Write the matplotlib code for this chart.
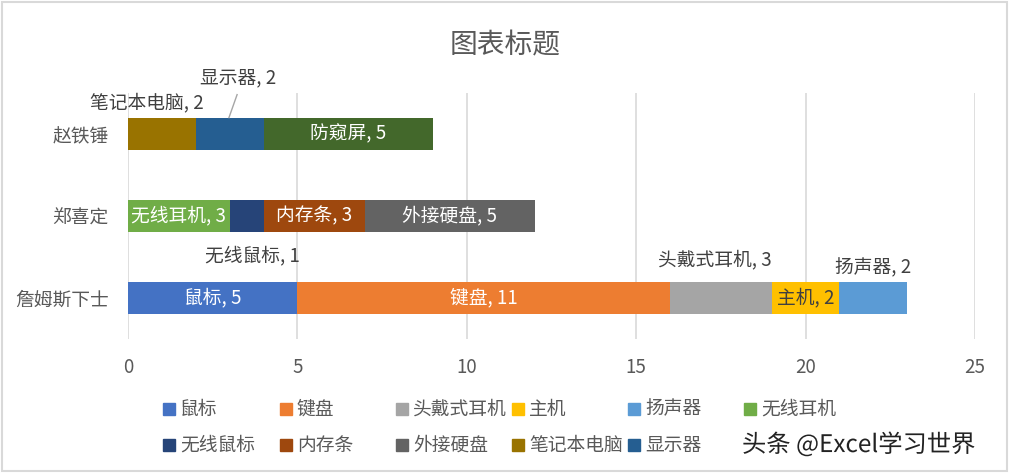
import matplotlib
matplotlib.use("Agg")
import numpy as np
import matplotlib.pyplot as plt
import matplotlib.patches as mpatches
import matplotlib.patheffects as pe

plt.rcParams["font.family"] = ["Noto Sans CJK SC", "DejaVu Sans"]

# --- data ---
categories = ["詹姆斯下士", "郑喜定", "赵铁锤"]
series_names = ["鼠标", "键盘", "头戴式耳机", "主机", "扬声器", "无线耳机",
                "无线鼠标", "内存条", "外接硬盘", "笔记本电脑", "显示器", "防窥屏"]
mouse      = [5, 0, 0]
keyboard   = [11, 0, 0]
headset    = [3, 0, 0]
host       = [2, 0, 0]
speaker    = [2, 0, 0]
wl_earbuds = [0, 3, 0]
wl_mouse   = [0, 1, 0]
memory     = [0, 3, 0]
ext_disk   = [0, 5, 0]
laptop     = [0, 0, 2]
monitor    = [0, 0, 2]
privacy    = [0, 0, 5]
series_vals = [mouse, keyboard, headset, host, speaker, wl_earbuds,
               wl_mouse, memory, ext_disk, laptop, monitor, privacy]
x_ticks = [0, 5, 10, 15, 20, 25]

colors = ["#4472C4", "#ED7D31", "#A5A5A5", "#FFC000", "#5B9BD5", "#70AD47",
          "#264478", "#9E480E", "#636363", "#997300", "#255E91", "#43682B"]
# label style: None = inside, tuple = offset (dx, dy) outside the bar
label_pos = [None, None, (-0.17, 0.46), None, (-0.01, 0.37), None,
             (0.17, -0.48), None, None, (-0.44, 0.38), (0.24, 0.69), None]
inside_color = {3: "#404040"}
TXT = "#595959"

fig = plt.figure(figsize=(10.1, 4.75), dpi=100)
ax = fig.add_axes([128/1010, 1-339/475, 847/1010, 246/475])

y = np.arange(len(categories))
left = np.zeros(len(categories))
for i, (name, vals) in enumerate(zip(series_names, series_vals)):
    vals = np.array(vals, dtype=float)
    ax.barh(y, vals, left=left, height=0.4, color=colors[i], zorder=2)
    for k in range(len(categories)):
        if vals[k] == 0:
            continue
        cx = left[k] + vals[k] / 2
        txt = f"{name}, {int(vals[k])}"
        if label_pos[i] is None:
            ax.text(cx, y[k], txt, ha="center", va="center", fontsize=13.5,
                    color=inside_color.get(i, "white"), zorder=3)
        else:
            dx, dy = label_pos[i]
            ax.text(cx + dx, y[k] + dy, txt, ha="center", va="center",
                    fontsize=13.5, color="#404040", zorder=3)
            if name == "显示器":
                ax.plot([cx + 0.22, cx - 0.02], [y[k] + 0.48, y[k] + 0.2],
                        color="#A6A6A6", lw=1.0, zorder=3)
    left += vals

ax.set_xlim(0, 25)
ax.set_ylim(-0.5, 2.5)
ax.set_xticks(x_ticks)
ax.set_yticks(y)
ax.set_yticklabels(categories)
ax.tick_params(length=0, labelsize=13.5, labelcolor=TXT)
ax.tick_params(axis="y", pad=14)
ax.tick_params(axis="x", pad=13)
ax.grid(True, axis="x", color="#D9D9D9", linewidth=1.2, zorder=0)
ax.set_axisbelow(True)
for s in ax.spines.values():
    s.set_visible(False)

fig.text(0.5, 1-45/475, "图表标题", ha="center", va="center",
         fontsize=20, color=TXT)

# legend drawn by hand: 6 columns, 2 rows
# (the last entry, 防窥屏, sits under the watermark in the original, so it is skipped)
col_x = [163, 280, 396, 512, 628, 744]
row_y = [409, 445]
for i, name in enumerate(series_names[:-1]):
    r, c = divmod(i, 6)
    px, py = col_x[c], row_y[r]
    fig.patches.append(mpatches.Rectangle(
        (px/1010, 1-(py+6)/475), 12/1010, 12/475,
        transform=fig.transFigure, color=colors[i], zorder=2))
    fig.text((px+17)/1010, 1-py/475, name, ha="left", va="center",
             fontsize=13.5, color=TXT)

# watermark
fig.text(742/1010, 1-445/475, "头条 @Excel学习世界", ha="left", va="center",
         fontsize=17.5, color="#222222", zorder=5,
         path_effects=[pe.withStroke(linewidth=3, foreground="white")])

# chart border
fig.patches.append(mpatches.Rectangle(
    (2/1010, 4/475), 1005/1010, 469/475, transform=fig.transFigure,
    fill=False, edgecolor="#D9D9D9", linewidth=1.5))

fig.savefig("out.png", dpi=100)
